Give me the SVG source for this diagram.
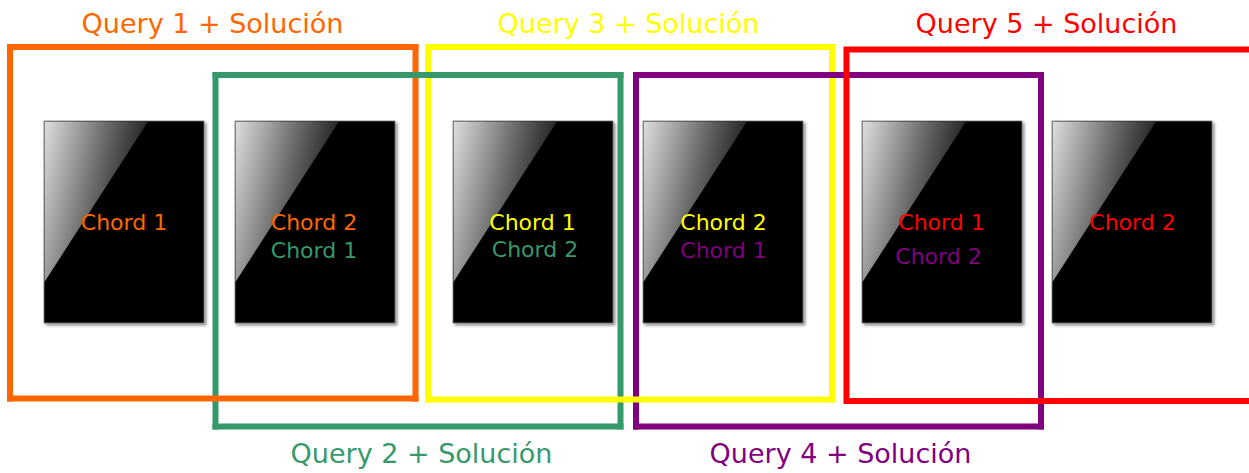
<svg xmlns="http://www.w3.org/2000/svg" xmlns:xlink="http://www.w3.org/1999/xlink" width="1249" height="473" viewBox="0 0 1249 473">
  <style>
    text { font-family: "DejaVu Sans", "Noto Sans", sans-serif; text-anchor: middle; }
    .title { font-size: 27px; }
    .lbl { font-size: 22px; }
    .frame { fill: none; stroke-width: 6; }
    .orange { fill: #ff6600; } .s-orange { stroke: #ff6600; }
    .green { fill: #37996b; } .s-green { stroke: #37996b; }
    .yellow { fill: #ffff00; } .s-yellow { stroke: #ffff00; }
    .purple { fill: #800080; } .s-purple { stroke: #800080; }
    .red { fill: #ff0000; } .s-red { stroke: #ff0000; }
  </style>
  <defs>
    <filter id="shadow" x="-10%" y="-10%" width="125%" height="125%">
      <feDropShadow dx="2" dy="2" stdDeviation="1.8" flood-color="#000" flood-opacity="0.45"/>
    </filter>
    <linearGradient id="gloss" x1="0" y1="0" x2="1" y2="0.35">
      <stop offset="0" stop-color="#dedede"/>
      <stop offset="0.55" stop-color="#6a6a6a"/>
      <stop offset="1" stop-color="#111"/>
    </linearGradient>
    <!-- black card with a glossy top-left highlight -->
    <g id="card">
      <rect x="0" y="0" width="160" height="202" fill="#000" stroke="#777" stroke-width="0.8" filter="url(#shadow)"/>
      <polygon points="0.5,0.5 104,0.5 0.5,161" fill="url(#gloss)"/>
    </g>
  </defs>

  <rect width="1249" height="473" fill="#fff"/>

  <!-- chord cards -->
  <g id="card1">
    <use xlink:href="#card" x="44" y="121"/>
    <text class="lbl orange" x="124" y="230">Chord 1</text>
  </g>
  <g id="card2">
    <use xlink:href="#card" x="235" y="121"/>
    <text class="lbl orange" x="314" y="230">Chord 2</text>
    <text class="lbl green" x="314" y="258">Chord 1</text>
  </g>
  <g id="card3">
    <use xlink:href="#card" x="453" y="121"/>
    <text class="lbl yellow" x="532.5" y="230">Chord 1</text>
    <text class="lbl green" x="535" y="257">Chord 2</text>
  </g>
  <g id="card4">
    <use xlink:href="#card" x="643" y="121"/>
    <text class="lbl yellow" x="723.5" y="230">Chord 2</text>
    <text class="lbl purple" x="723.5" y="258">Chord 1</text>
  </g>
  <g id="card5">
    <use xlink:href="#card" x="862" y="121"/>
    <text class="lbl red" x="941.5" y="230">Chord 1</text>
    <text class="lbl purple" x="938.5" y="264">Chord 2</text>
  </g>
  <g id="card6">
    <use xlink:href="#card" x="1052" y="121"/>
    <text class="lbl red" x="1132.5" y="230">Chord 2</text>
  </g>

  <!-- query frames: sides first, then top/bottom edges, red frame last -->
  <g id="frames">
    <path class="frame s-orange" d="M10,44 V401.5 M415.5,44 V401.5"/>
    <path class="frame s-green" d="M215.5,72 V429.5 M620.5,72 V429.5"/>
    <path class="frame s-yellow" d="M428,44 V402.5 M832,44 V402.5"/>
    <path class="frame s-purple" d="M636,72 V429.5 M1041,72 V429.5"/>
    <path class="frame s-orange" d="M7,47 H418.5 M7,398.5 H418.5"/>
    <path class="frame s-green" d="M212.5,75 H623.5 M212.5,426.5 H623.5"/>
    <path class="frame s-yellow" d="M425,47 H835 M425,399.5 H835"/>
    <path class="frame s-purple" d="M633,75 H1044 M633,426.5 H1044"/>
    <rect class="frame s-red" x="846.5" y="49.5" width="406" height="351.5"/>
  </g>

  <!-- frame titles -->
  <g id="titles">
    <text class="title orange" x="212.5" y="33">Query 1 + Solución</text>
    <text class="title yellow" x="628.5" y="33">Query 3 + Solución</text>
    <text class="title red" x="1046.5" y="33">Query 5 + Solución</text>
    <text class="title green" x="421.5" y="463">Query 2 + Solución</text>
    <text class="title purple" x="840.5" y="463">Query 4 + Solución</text>
  </g>
</svg>
